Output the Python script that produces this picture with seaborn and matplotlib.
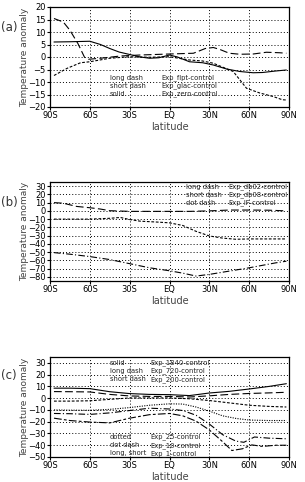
import numpy as np
import pandas as pd
import matplotlib
matplotlib.use("Agg")
import matplotlib.pyplot as plt
import seaborn as sns

# ---------------- data ----------------
xtick_vals = [-90, -60, -30, 0, 30, 60, 90]
xtick_labels = ["90S", "60S", "30S", "EQ", "30N", "60N", "90N"]

# panel (a)
a_flpt_lat = [-87, -80, -75, -69, -64, -61, -52, -37, -22, 0, 18, 27, 33, 38, 45, 53, 63, 73, 83, 88]
a_flpt_val = [15.4, 14.0, 10.7, 5.4, -0.1, -0.9, -0.5, 0.4, 0.8, 1.2, 1.5, 3.4, 3.8, 3.0, 1.5, 1.1, 1.2, 1.9, 1.7, 1.5]
a_glac_lat = [-87, -77, -67, -60, -45, -30, -15, 0, 15, 25, 33, 48, 58, 68, 78, 85, 88]
a_glac_val = [-7.4, -4.5, -2.3, -1.9, -0.5, 0.1, -0.1, 0.1, -1.2, -1.6, -2.5, -5.8, -12.5, -14.4, -15.8, -17.1, -17.2]
a_zero_lat = [-87, -75, -60, -52, -45, -38, -30, -22, -15, -8, 0, 6, 15, 25, 33, 43, 53, 63, 70, 80, 88]
a_zero_val = [6.0, 6.1, 6.3, 5.0, 3.4, 2.0, 1.0, 0.0, -0.5, -0.3, 0.8, 0.0, -1.9, -2.3, -3.2, -4.8, -5.8, -6.3, -6.2, -5.6, -5.2]

# panel (b)
b_db02_lat = [-87, -80, -70, -60, -52, -45, -30, -15, 0, 15, 30, 45, 60, 75, 88]
b_db02_val = [10.0, 9.3, 5.4, 3.8, 2.2, 0.2, -0.6, -0.6, -0.6, -0.6, 0.0, 1.0, 1.0, 0.8, 0.0]
b_db08_lat = [-87, -75, -60, -45, -37, -30, -22, -10, 0, 10, 20, 30, 40, 50, 60, 75, 88]
b_db08_val = [-10.0, -10.0, -10.0, -9.0, -8.0, -10.5, -12.5, -13.5, -14.5, -17.7, -24.8, -30.4, -33.0, -34.4, -34.0, -34.0, -34.0]
b_if_lat = [-87, -75, -60, -45, -30, -15, 0, 10, 20, 30, 45, 60, 70, 80, 88]
b_if_val = [-50.6, -52.5, -55.4, -59.0, -64.0, -69.0, -72.6, -75.5, -79.0, -77.0, -73.0, -69.0, -66.0, -63.0, -61.0]

# panel (c)
c_1840_lat = [-87, -75, -60, -45, -30, -15, 0, 15, 30, 45, 60, 75, 88]
c_1840_val = [8.5, 8.5, 8.1, 5.5, 3.9, 3.2, 3.0, 2.2, 4.4, 5.8, 7.8, 10.0, 12.3]
c_720_lat = [-87, -75, -60, -45, -30, -15, 0, 15, 30, 45, 60, 75, 88]
c_720_val = [5.6, 5.5, 5.3, 3.2, 1.9, 1.5, 1.5, 1.0, 2.0, 3.2, 4.0, 4.5, 5.0]
c_200_lat = [-87, -75, -60, -45, -30, -15, 0, 15, 30, 45, 60, 75, 88]
c_200_val = [-2.5, -2.5, -2.2, -1.0, 0.2, 0.2, 0.2, -0.5, -2.0, -4.0, -6.0, -7.0, -7.5]
c_25_lat = [-87, -75, -60, -45, -30, -15, 0, 10, 20, 30, 40, 50, 60, 75, 88]
c_25_val = [-10.0, -10.2, -10.3, -9.5, -8.0, -6.0, -4.8, -5.0, -7.5, -11.0, -15.0, -17.2, -18.6, -19.0, -19.0]
c_10_lat = [-87, -75, -60, -45, -30, -15, 0, 10, 20, 30, 40, 50, 56, 64, 75, 88]
c_10_val = [-13.0, -13.2, -13.8, -12.5, -10.5, -8.5, -9.2, -10.5, -14.5, -22.0, -31.0, -36.5, -37.5, -33.0, -34.0, -34.5]
c_1_lat = [-87, -75, -60, -45, -30, -15, 0, 10, 20, 30, 40, 47, 55, 62, 70, 80, 88]
c_1_val = [-17.0, -19.0, -20.3, -21.0, -17.0, -14.0, -13.0, -15.0, -19.5, -27.0, -37.0, -44.5, -43.0, -39.7, -41.0, -40.0, -40.0]

# ---------------- style ----------------
sns.set_theme(style="white")
plt.rcParams["font.family"] = ["DejaVu Sans"]

fig = plt.figure(figsize=(3.05, 4.82), dpi=100)
L, W = 50 / 305, 239 / 305
ax_a = fig.add_axes([L, 1 - 107 / 482, W, 100 / 482])
ax_b = fig.add_axes([L, 1 - 281 / 482, W, 99 / 482])
ax_c = fig.add_axes([L, 1 - 457 / 482, W, 100 / 482])

LONG = (0, (7, 3))
SHORT = (0, (2.5, 1.5))
DOT = (0, (1, 1.2))
DOTDASH = (0, (6, 2, 1, 2))
LONGSHORT = (0, (7, 2, 2.5, 2))

def line(ax, lat, val, ls):
    df = pd.DataFrame({"lat": lat, "val": val})
    sns.lineplot(data=df, x="lat", y="val", ax=ax, color="black",
                 linewidth=0.8, linestyle=ls, sort=True)

line(ax_a, a_flpt_lat, a_flpt_val, LONG)
line(ax_a, a_glac_lat, a_glac_val, SHORT)
line(ax_a, a_zero_lat, a_zero_val, "-")

line(ax_b, b_db02_lat, b_db02_val, LONG)
line(ax_b, b_db08_lat, b_db08_val, SHORT)
line(ax_b, b_if_lat, b_if_val, DOTDASH)

line(ax_c, c_1840_lat, c_1840_val, "-")
line(ax_c, c_720_lat, c_720_val, LONG)
line(ax_c, c_200_lat, c_200_val, SHORT)
line(ax_c, c_25_lat, c_25_val, DOT)
line(ax_c, c_10_lat, c_10_val, DOTDASH)
line(ax_c, c_1_lat, c_1_val, LONGSHORT)

settings = [
    (ax_a, (-20, 20), np.arange(-20, 21, 5), "(a)", 27),
    (ax_b, (-85, 35), np.arange(-80, 31, 10), "(b)", 202),
    (ax_c, (-50, 35), np.arange(-50, 31, 10), "(c)", 375),
]
for ax, ylim, yt, lab, ylab_px in settings:
    ax.set_xlim(-90, 90)
    ax.set_ylim(*ylim)
    ax.set_xticks(xtick_vals)
    ax.set_xticklabels(xtick_labels)
    ax.set_yticks(yt)
    ax.tick_params(axis="both", labelsize=6, length=2, width=0.8,
                   direction="out", pad=1, colors="black",
                   bottom=True, left=True)
    ax.grid(True, color="black", linestyle=(0, (1, 2.2)), linewidth=0.7)
    for s in ax.spines.values():
        s.set_color("black")
        s.set_linewidth(0.9)
    ax.set_xlabel("latitude", fontsize=7, color="#444444", labelpad=1)
    ax.set_ylabel("Temperature anomaly", fontsize=6.5, color="#444444")
    ax.yaxis.set_label_coords(-21 / 239, 0.5)
    fig.text(9 / 305, 1 - ylab_px / 482, lab, fontsize=8.5, color="#333333",
             ha="center", va="center")

fs = 4.9
def legend_rows(ax, x1, x2, rows):
    for (y, a, b) in rows:
        ax.text(x1, y, a, transform=ax.transAxes, fontsize=fs, va="center", ha="left", color="#222222")
        ax.text(x2, y, b, transform=ax.transAxes, fontsize=fs, va="center", ha="left", color="#222222")

legend_rows(ax_a, 0.251, 0.464, [
    (0.29, "long dash", "Exp_flpt-control"),
    (0.21, "short dash", "Exp_glac-control"),
    (0.13, "solid", "Exp_zero-control"),
])
legend_rows(ax_b, 0.57, 0.745, [
    (0.949, "long dash", "Exp_db02-control"),
    (0.869, "short dash", "Exp_db08-control"),
    (0.788, "dot dash", "Exp_IF-control"),
])
legend_rows(ax_c, 0.251, 0.418, [
    (0.943, "solid", "Exp_1840-control"),
    (0.863, "long dash", "Exp_720-control"),
    (0.777, "short dash", "Exp_200-control"),
    (0.203, "dotted", "Exp_25-control"),
    (0.117, "dot dash", "Exp_10-control"),
    (0.037, "long, short", "Exp_1-control"),
])

fig.savefig("out.png", dpi=100)
